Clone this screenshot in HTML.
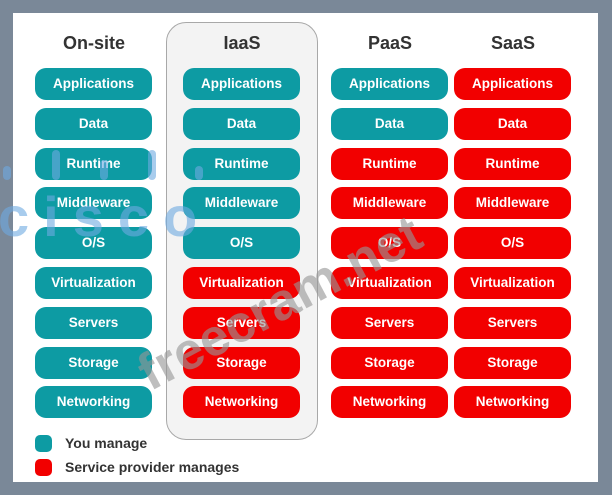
<!DOCTYPE html>
<html><head><style>
body{margin:0;width:612px;height:495px;background:#7a8898;position:relative;overflow:hidden;font-family:"Liberation Sans",sans-serif}
.w{position:absolute;left:13px;top:13px;width:585px;height:469px;background:#fff}
.p{position:absolute;left:166px;top:22px;width:150px;height:416px;background:#f3f3f3;border:1.5px solid #a8a8a8;border-radius:20px}
.h{position:absolute;top:33px;width:118px;text-align:center;font-size:18px;font-weight:bold;color:#333}
.b{position:absolute;width:117px;height:32px;border-radius:11px;color:#fff;font-size:13.5px;font-weight:bold;text-align:center;line-height:32px}
.t{background:#0d9ba3}.r{background:#f20000}
.lg{position:absolute;left:35px;width:17px;height:17px;border-radius:5px}
.lt{position:absolute;left:65px;font-size:14px;color:#333;font-weight:bold}
.wm{position:absolute;left:128px;font-size:52px;font-weight:bold;color:rgba(150,150,150,.62);transform:rotate(-28deg);transform-origin:left top;white-space:nowrap}
.cs{position:absolute;left:-2px;top:184px;font-size:56px;font-weight:bold;color:rgba(110,170,225,.6);letter-spacing:14px}
.bar{position:absolute;width:8px;background:rgba(110,170,225,.6);border-radius:4px}
</style></head><body>
<div class="w"></div>
<div class="p"></div>
<div class="h" style="left:35px">On-site</div>
<div class="h" style="left:183px">IaaS</div>
<div class="h" style="left:331px">PaaS</div>
<div class="h" style="left:454px">SaaS</div>
<div id="g"></div>
<script>
var n=["Applications","Data","Runtime","Middleware","O/S","Virtualization","Servers","Storage","Networking"];
var xs=[35,183,331,454],tc=[9,5,2,0],h="";
for(var c=0;c<4;c++)for(var i=0;i<9;i++){h+='<div class="b '+(i<tc[c]?'t':'r')+'" style="left:'+xs[c]+'px;top:'+(68+i*39.8)+'px">'+n[i]+'</div>';}
document.getElementById('g').innerHTML=h;
</script>
<div class="bar" style="left:3px;top:166px;height:14px"></div>
<div class="bar" style="left:52px;top:150px;height:30px"></div>
<div class="bar" style="left:100px;top:160px;height:20px"></div>
<div class="bar" style="left:148px;top:150px;height:30px"></div>
<div class="bar" style="left:195px;top:166px;height:14px"></div>
<div class="cs">cisco</div>
<div class="lg t" style="top:435px"></div><div class="lt" style="top:435px">You manage</div>
<div class="lg r" style="top:459px"></div><div class="lt" style="top:459px">Service provider manages</div>
<div class="wm" style="top:350px">freecram.net</div>
</body></html>
